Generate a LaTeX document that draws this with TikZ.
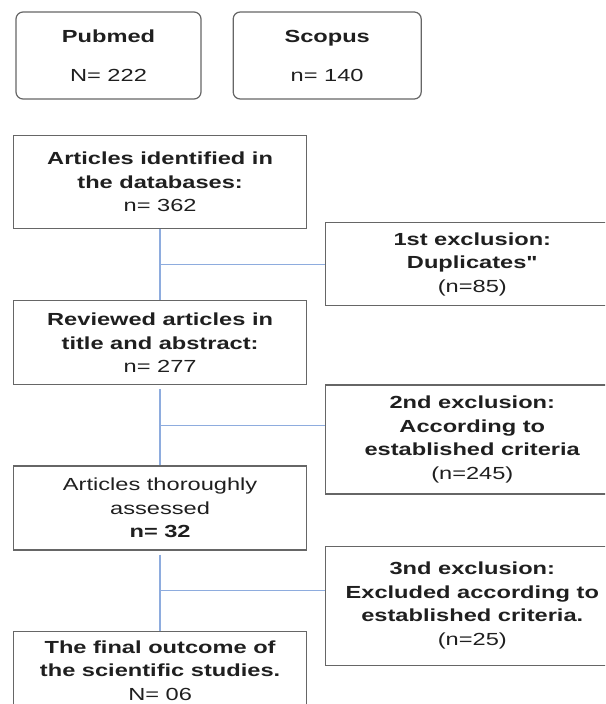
\documentclass[tikz,border=0pt]{standalone}
\usepackage{fontspec}
\setmainfont{Liberation Sans}[FakeStretch=1.35]
\newfontfamily\plainquote{Liberation Sans}[FakeStretch=1.35]
\usepackage{tikz}
\usetikzlibrary{positioning}
\definecolor{linkblue}{RGB}{142,172,222}

\begin{document}
\begin{tikzpicture}[
		x=1pt,y=1pt,
		box/.style={
			draw=black!60,
			line width=1.2pt,
			rectangle,
			align=center,
			inner sep=2pt,
			text=black!88,
			minimum width=293pt,
			font=\fontsize{17.5}{23.5}\selectfont
		},
		source/.style={box, rounded corners=7pt, minimum height=87pt},
		excl/.style={box, anchor=north west},
		link/.style={draw=linkblue, line width=1.8pt},
		branch/.style={draw=linkblue, line width=1.3pt}
		]
		\clip (0,0) rectangle (605,-704);
		% Sources
		\node[source, minimum width=185pt] (pubmed) at (108.5,-55.5) {\textbf{Pubmed}\\[15.5pt]N= 222};
		\node[source, minimum width=188pt, right=31pt of pubmed] (scopus) {\textbf{Scopus}\\[15.5pt]n= 140};
		
		% Screening steps
		\node[box, minimum height=93pt, anchor=north west] (ident) at (13,-135)
		{\textbf{Articles identified in}\\\textbf{the databases:}\\n= 362};
		\node[box, minimum height=84pt, below=71pt of ident] (review)
		{\textbf{Reviewed articles in}\\\textbf{title and abstract:}\\n= 277};
		\node[box, minimum height=84pt, below=80pt of review] (assess)
		{Articles thoroughly\\assessed\\\textbf{n= 32}};
		\node[box, minimum height=79pt, below=80pt of assess] (final)
		{\textbf{The final outcome of}\\\textbf{the scientific studies.}\\N= 06};
		
		% Exclusions
		\node[excl, minimum height=83pt] (excl1) at ([xshift=18pt,yshift=7pt]ident.south east)
		{\textbf{1st exclusion:}\\\textbf{Duplicates{\plainquote"}}\\(n=85)};
		\node[excl, minimum height=109pt] (excl2) at ([xshift=18pt,yshift=1pt]review.south east)
		{\textbf{2nd exclusion:}\\\textbf{According to}\\\textbf{established criteria}\\(n=245)};
		\node[excl, minimum height=119pt] (excl3) at ([xshift=18pt,yshift=5pt]assess.south east)
		{\textbf{3nd exclusion:}\\\textbf{Excluded according to}\\\textbf{established criteria.}\\(n=25)};
		
		% Flow lines
		\draw[link] (ident.south) -- coordinate[pos=0.5] (j1) (review.north);
		\draw[link, shorten <=4pt] (review.south) -- coordinate[pos=0.5] (j2) (assess.north);
		\draw[link, shorten <=4pt] (assess.south) -- coordinate[pos=0.5] (j3) (final.north);
		\draw[branch] (j1) -- (j1 -| excl1.west);
		\draw[branch] (j2) -- (j2 -| excl2.west);
		\draw[branch] (j3) -- (j3 -| excl3.west);
	\end{tikzpicture}
\end{document}
